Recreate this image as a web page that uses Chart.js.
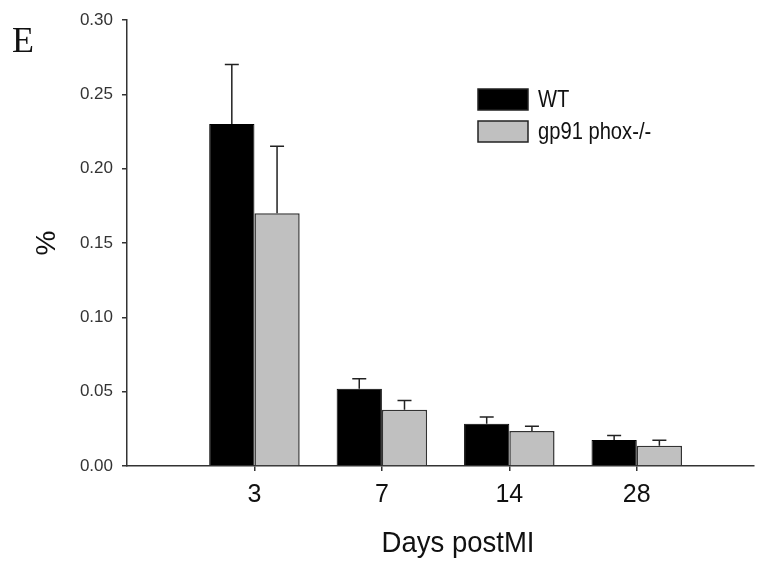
<!DOCTYPE html>
<html>
<head>
<meta charset="utf-8">
<script src="https://cdn.jsdelivr.net/npm/chart.js@4/dist/chart.umd.min.js"></script>
<style>
  html, body { margin: 0; padding: 0; background: #fff; }
  #wrap { width: 759px; height: 561px; position: relative; }
</style>
</head>
<body>
<div id="wrap"><canvas id="chart" width="759" height="561"></canvas></div>
<script>
const categories = ['3', '7', '14', '28'];
const seriesNames = ['WT', 'gp91 phox-/-'];
const wtValues = [0.23, 0.052, 0.0285, 0.0175];
const wtErrors = [0.04, 0.0067, 0.0045, 0.003];
const koValues = [0.17, 0.0378, 0.0236, 0.0137];
const koErrors = [0.045, 0.0062, 0.0032, 0.0037];
const yTicks = [0, 0.05, 0.10, 0.15, 0.20, 0.25, 0.30];
const xTitle = 'Days postMI';

const sans = '"Liberation Sans", Arial, sans-serif';
const axisColor = '#333';

// upward-only error bars with a short cap
const errorBars = {
    id: 'errorBars',
    afterDatasetsDraw(chart) {
        const ctx = chart.ctx;
        const y = chart.scales.y;
        chart.data.datasets.forEach((ds, di) => {
            const meta = chart.getDatasetMeta(di);
            meta.data.forEach((bar, i) => {
                const top = y.getPixelForValue(ds.data[i] + ds.errors[i]);
                ctx.save();
                ctx.strokeStyle = '#222';
                ctx.lineWidth = 1.5;
                ctx.beginPath();
                ctx.moveTo(bar.x, bar.y);
                ctx.lineTo(bar.x, top);
                ctx.moveTo(bar.x - 7, top);
                ctx.lineTo(bar.x + 7, top);
                ctx.stroke();
                ctx.restore();
            });
        });
    }
};

// legend inside the plot, x title (sits right of centre in the original), panel letter
const extras = {
    id: 'extras',
    afterDraw(chart) {
        const ctx = chart.ctx;
        ctx.save();
        ctx.font = '24px ' + sans;
        chart.data.datasets.forEach((ds, i) => {
            const bx = 478, by = 89 + i * 32;
            ctx.fillStyle = ds.backgroundColor;
            ctx.fillRect(bx, by, 50, 21);
            ctx.strokeStyle = '#222';
            ctx.lineWidth = 1.5;
            ctx.strokeRect(bx, by, 50, 21);
            ctx.fillStyle = '#111';
            ctx.textBaseline = 'alphabetic';
            // the original lettering is condensed
            const w = ctx.measureText(ds.label).width * 0.84;
            ctx.fillText(ds.label, 538, by + 18, w);
        });

        ctx.font = '29px ' + sans;
        ctx.textAlign = 'center';
        ctx.fillText(xTitle, 458, 552, 153);

        ctx.textAlign = 'left';
        ctx.font = '36px "Liberation Serif", "DejaVu Serif", serif';
        ctx.fillText('E', 12, 52);
        ctx.restore();
    }
};

new Chart(document.getElementById('chart'), {
    type: 'bar',
    data: {
        labels: categories.map((c, i) => i + 1),
        datasets: [
            {
                label: seriesNames[0],
                data: wtValues,
                errors: wtErrors,
                backgroundColor: '#000000',
                borderColor: '#000000',
                borderWidth: 1
            },
            {
                label: seriesNames[1],
                data: koValues,
                errors: koErrors,
                backgroundColor: '#c0c0c0',
                borderColor: '#333333',
                borderWidth: 1.5
            }
        ]
    },
    options: {
        responsive: false,
        animation: false,
        events: [],
        layout: { padding: { top: 20, right: 5, left: 0, bottom: 0 } },
        categoryPercentage: 0.71,
        barPercentage: 1.0,
        scales: {
            x: {
                type: 'linear',
                offset: false,
                min: 0,
                max: 4.92,
                afterBuildTicks: scale => {
                    scale.ticks = categories.map((c, i) => ({ value: i + 1 }));
                },
                afterFit: scale => { scale.height = 95; },
                border: { display: true, color: axisColor, width: 1.5 },
                grid: { display: true, offset: false, drawOnChartArea: false, drawTicks: true, tickLength: 5, color: axisColor, lineWidth: 1.5 },
                ticks: {
                    font: { family: sans, size: 25 },
                    color: '#111',
                    padding: 9,
                    autoSkip: false,
                    maxRotation: 0,
                    callback: v => categories[v - 1]
                },
                title: { display: false }
            },
            y: {
                min: 0,
                max: 0.30,
                afterBuildTicks: scale => {
                    scale.ticks = yTicks.map(v => ({ value: v }));
                },
                afterFit: scale => { scale.width = 127; },
                border: { display: true, color: axisColor, width: 1.5 },
                grid: { display: true, drawOnChartArea: false, drawTicks: true, tickLength: 5, color: axisColor, lineWidth: 1.5 },
                ticks: {
                    font: { family: sans, size: 17 },
                    color: '#333',
                    padding: 9,
                    callback: v => v.toFixed(2)
                },
                title: {
                    display: true,
                    text: '%',
                    font: { family: sans, size: 28 },
                    color: '#111',
                    padding: { top: 30, bottom: 0 }
                }
            }
        },
        plugins: {
            legend: { display: false },
            tooltip: { enabled: false }
        }
    },
    plugins: [errorBars, extras]
});
</script>
</body>
</html>
